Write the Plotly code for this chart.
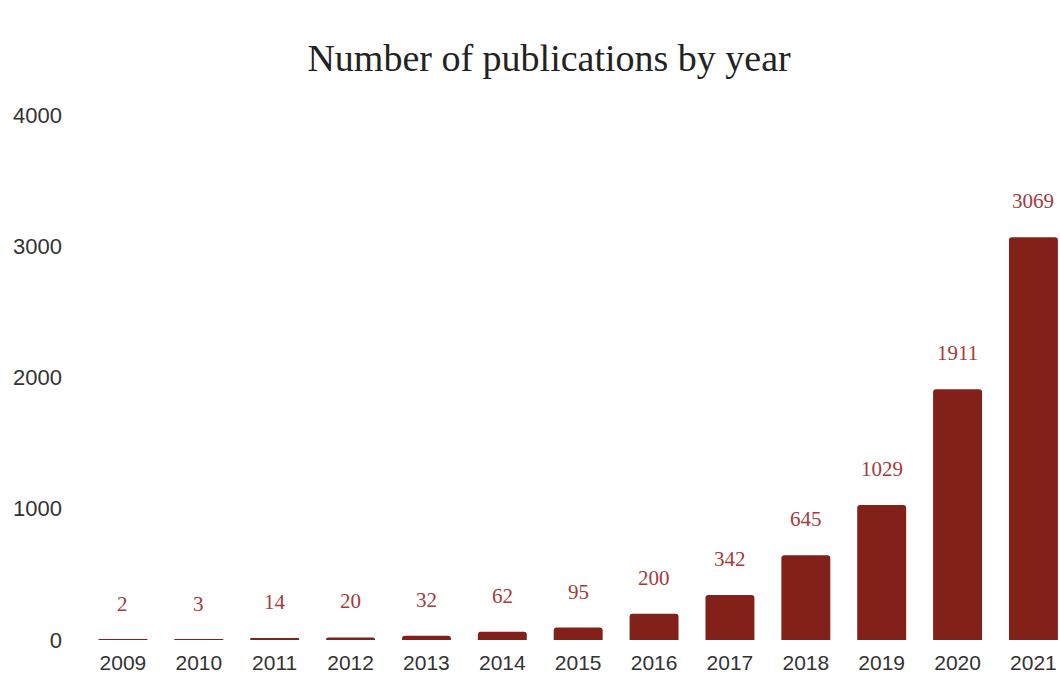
import plotly.graph_objects as go

years = ["2009", "2010", "2011", "2012", "2013", "2014", "2015",
         "2016", "2017", "2018", "2019", "2020", "2021"]
counts = [2, 3, 14, 20, 32, 62, 95, 200, 342, 645, 1029, 1911, 3069]
y_ticks = [0, 1000, 2000, 3000, 4000]

bar_color = "#82201a"
label_color = "#a63a3c"

fig = go.Figure()
fig.add_trace(go.Bar(
    x=years, y=counts,
    marker=dict(color=bar_color, line=dict(width=0), cornerradius=3),
    hoverinfo="x+y",
))

for i, c in enumerate(counts):
    fig.add_annotation(
        x=i, y=c, xref="x", yref="y", text=str(c), showarrow=False,
        yanchor="middle", yshift=36,
        font=dict(family="Liberation Serif, Times New Roman, serif", size=21, color=label_color),
    )

fig.update_layout(
    width=1060, height=675,
    margin=dict(l=85, r=0, t=115, b=35),
    paper_bgcolor="white", plot_bgcolor="white",
    showlegend=False,
    bargap=0.355,
    title=dict(
        text="Number of publications by year",
        x=0.518, xanchor="center", y=0.914, yanchor="middle",
        font=dict(family="Liberation Serif, Times New Roman, serif", size=38, color="#222222"),
    ),
    xaxis=dict(
        type="category", range=[-0.5, 12.35],
        showgrid=False, zeroline=False, showline=False,
        ticks="", tickfont=dict(family="Liberation Sans, Arial, sans-serif", size=21, color="#333333"),
        ticklabelstandoff=8,
    ),
    yaxis=dict(
        range=[0, 4000], tickvals=y_ticks,
        showgrid=False, zeroline=False, showline=False,
        ticks="", tickfont=dict(family="Liberation Sans, Arial, sans-serif", size=22, color="#333333"),
        ticklabelstandoff=22,
    ),
)

fig.write_html("out.html")
